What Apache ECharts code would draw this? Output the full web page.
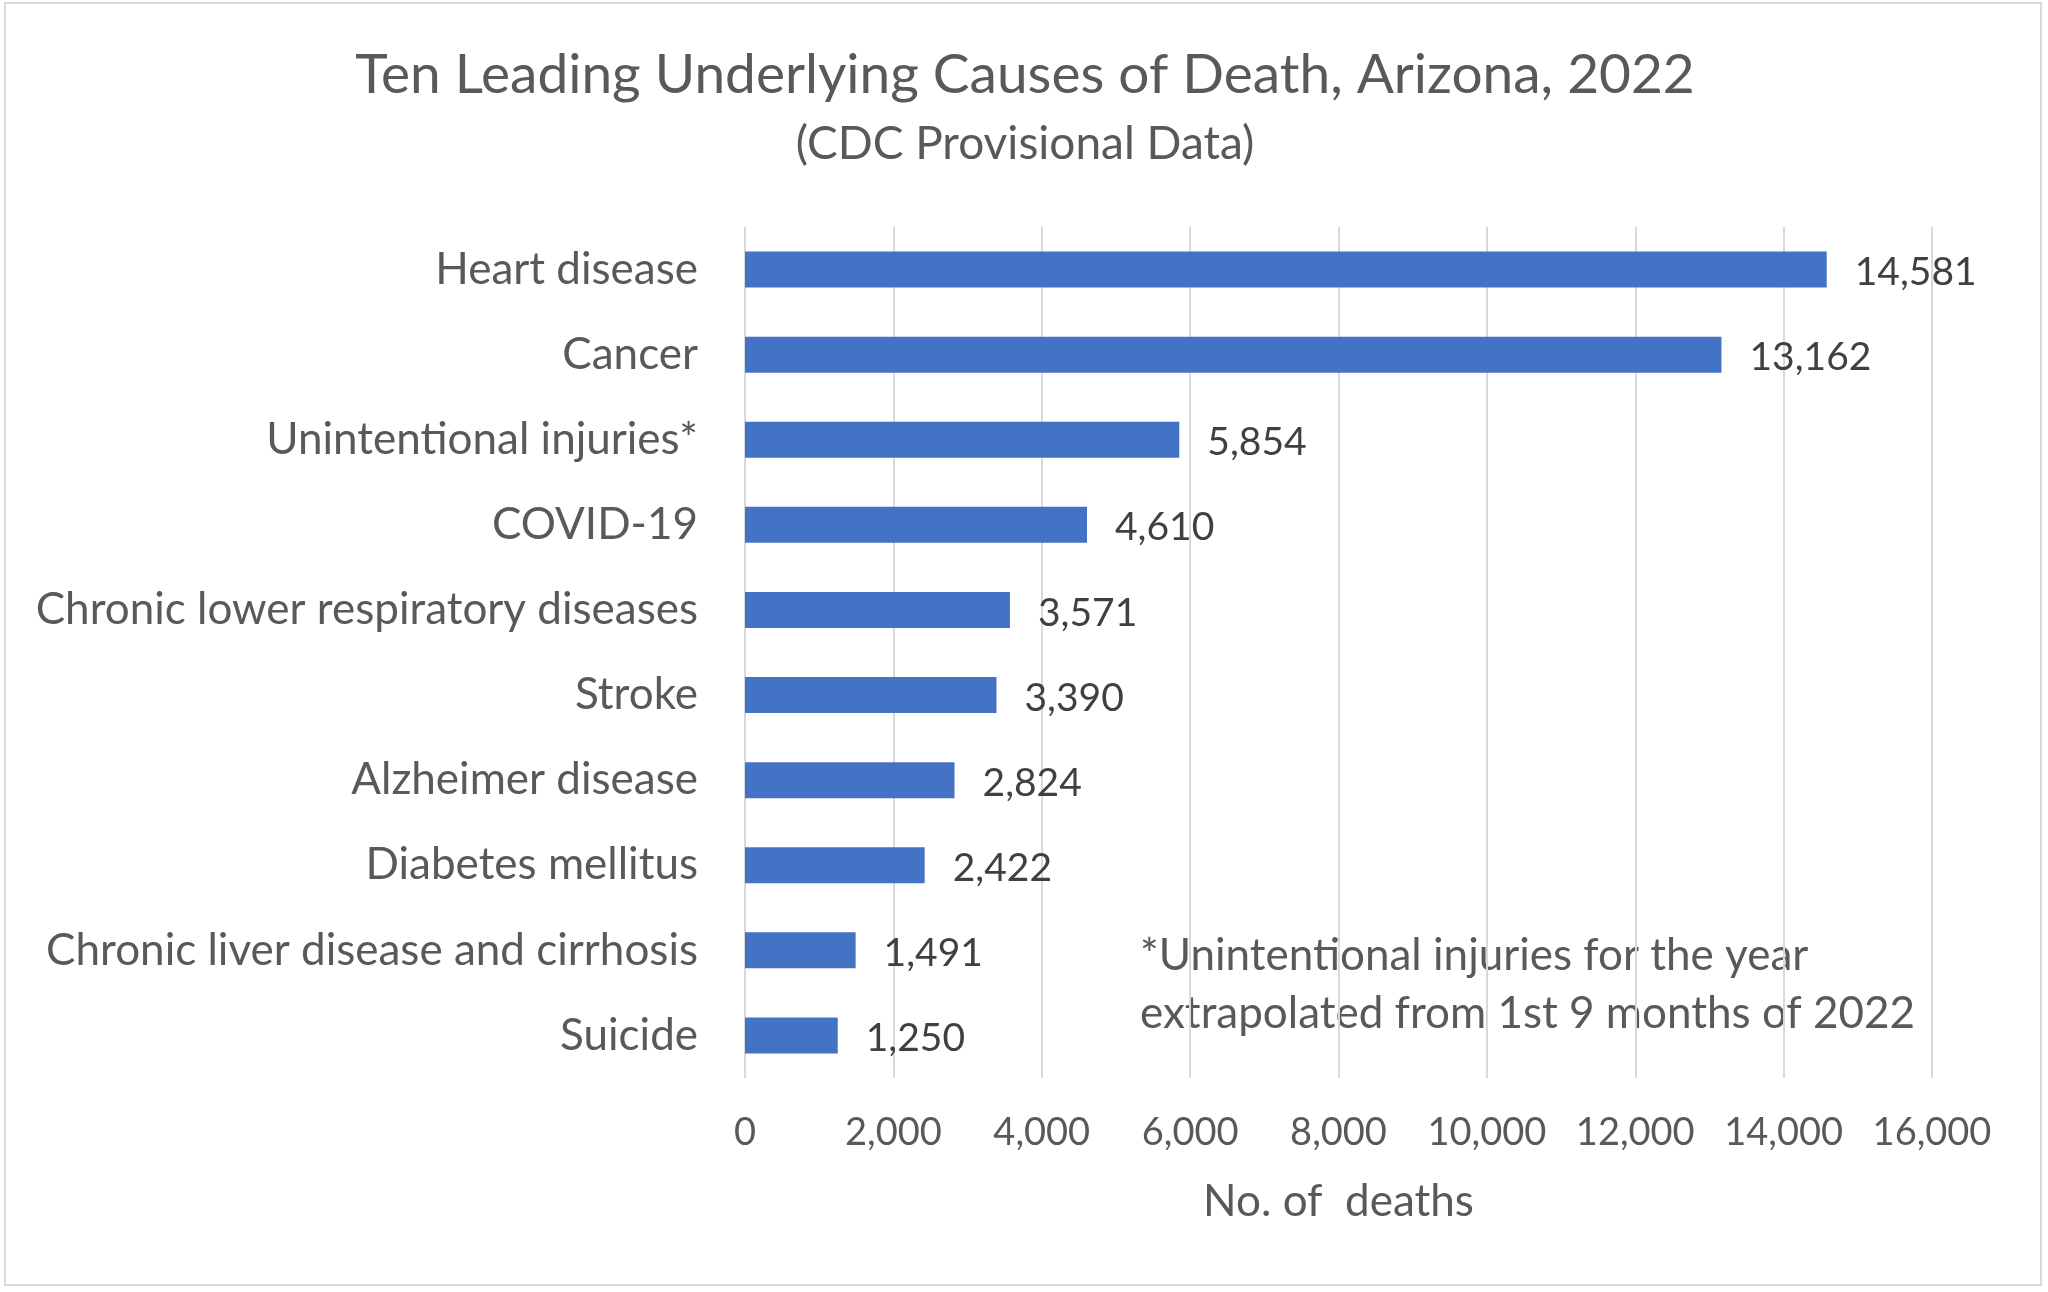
<!DOCTYPE html>
<html>
<head>
<meta charset="utf-8">
<script src="https://cdn.jsdelivr.net/npm/echarts@6/dist/echarts.min.js"></script>
<style>
html,body{margin:0;padding:0;background:#fff;}
#c{width:2048px;height:1292px;}
</style>
</head>
<body>
<div id="c"></div>
<script>
const categories = ["Heart disease","Cancer","Unintentional injuries*","COVID-19","Chronic lower respiratory diseases","Stroke","Alzheimer disease","Diabetes mellitus","Chronic liver disease and cirrhosis","Suicide"];
const deaths = [14581,13162,5854,4610,3571,3390,2824,2422,1491,1250];
const titleText = "Ten Leading Underlying Causes of Death, Arizona, 2022";
const subtitleText = "(CDC Provisional Data)";
const axisName = "No. of  deaths";
const noteLines = ["*Unintentional injuries for the year","extrapolated from 1st 9 months of 2022"];

const FONT = "Lato";
const fmt = v => Number(v).toLocaleString('en-US');
const chart = echarts.init(document.getElementById('c'));
chart.setOption({
  animation: false,
  backgroundColor: '#ffffff',
  title: [
    {text: titleText, left: 1020, top: 43, textAlign: 'center',
     textStyle: {fontFamily: FONT, fontSize: 55, fontWeight: 'normal', color: '#595959'}},
    {text: subtitleText, left: 1020, top: 116, textAlign: 'center',
     textStyle: {fontFamily: FONT, fontSize: 46, fontWeight: 'normal', color: '#595959'}}
  ],
  grid: {left: 745, right: 116, top: 227, bottom: 214, containLabel: false},
  xAxis: {
    type: 'value', min: 0, max: 16000, interval: 2000,
    axisLine: {show: false}, axisTick: {show: false},
    splitLine: {show: true, lineStyle: {color: '#d9d9d9', width: 2}},
    axisLabel: {formatter: fmt, margin: 36, fontFamily: FONT, fontSize: 38, color: '#595959'},
    name: axisName, nameLocation: 'middle', nameGap: 102,
    nameTextStyle: {fontFamily: FONT, fontSize: 44, color: '#595959'}
  },
  yAxis: {
    type: 'category', data: categories, inverse: true,
    axisLine: {show: false}, axisTick: {show: false}, splitLine: {show: false},
    axisLabel: {margin: 47, fontFamily: FONT, fontSize: 44, color: '#595959'}
  },
  series: [{
    type: 'bar', data: deaths, barWidth: 36,
    itemStyle: {color: '#4472C4'},
    label: {show: true, position: 'right', distance: 28, offset: [0, 3], formatter: p => fmt(p.value),
      fontFamily: FONT, fontSize: 39, color: '#404040'}
  }],
  graphic: [
    {type: 'rect', shape: {x: 5, y: 3, width: 2036, height: 1282}, silent: true,
     style: {fill: null, stroke: '#d9d9d9', lineWidth: 2}},
    {type: 'text', left: 1140, top: 927, silent: true,
     style: {text: noteLines.join('\n'), fontFamily: FONT, fontSize: 44, lineHeight: 58, fill: '#595959'}}
  ]
});
</script>
</body>
</html>
